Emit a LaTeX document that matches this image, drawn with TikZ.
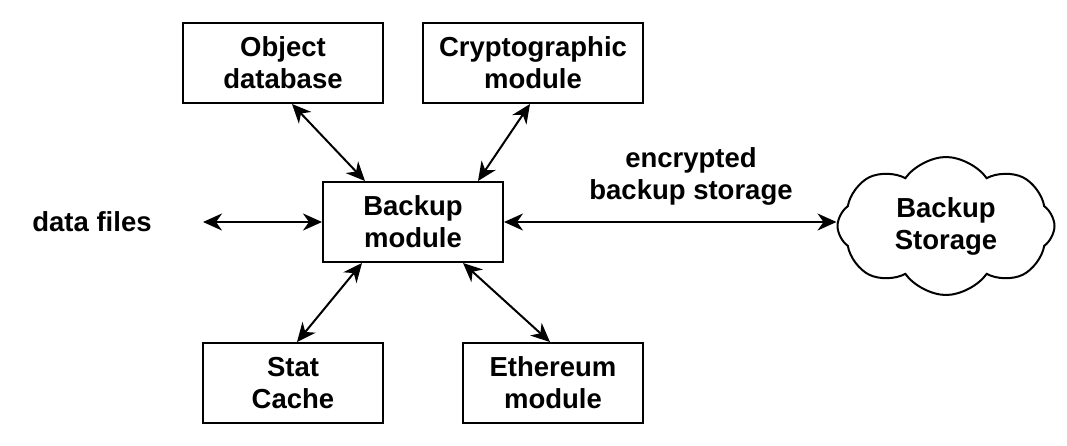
\documentclass[tikz,border=0pt]{standalone}
\usepackage{fontspec}
\setmainfont{Liberation Sans}
\usetikzlibrary{arrows.meta,shapes.symbols,calc}
\begin{document}
\begin{tikzpicture}[x=1pt, y=1pt,
        every node/.style={font=\fontsize{27.5}{32}\selectfont\bfseries, align=center},
        modbox/.style={draw, black, line width=2pt, minimum width=180pt, minimum height=80pt, inner sep=0pt},
        link/.style={line width=2pt, {Stealth[length=19pt,width=17pt,inset=6pt]}-{Stealth[length=19pt,width=17pt,inset=6pt]}}]
    \useasboundingbox (0,0) rectangle (1067,-445);
    \node[modbox, minimum width=200pt] (objdb) at (283,-63) {Object\\database};
    \node[modbox, minimum width=220pt] (crypto) at (533,-63) {Cryptographic\\module};
    \node[modbox] (backup) at (413,-222) {Backup\\module};
    \node[modbox] (stat) at (293,-383) {Stat\\Cache};
    \node[modbox] (eth) at (553,-383) {Ethereum\\module};
    \node[cloud, draw, line width=2pt, cloud puffs=8, cloud puff arc=110, aspect=1.6, minimum width=217pt, minimum height=138pt, inner sep=0pt] (store) at (946,-226) {Backup\\Storage};
    \node (files) at (92,-222) {data files};
    \node (enc) at (691,-176) {encrypted\\backup storage};
    \coordinate (filesend) at (203,-222);
    % connectors
    \draw[link] ($(objdb.south)+(9,0)$) -- ($(backup.north)+(-48,0)$);
    \draw[link] ($(crypto.south)+(-3,0)$) -- ($(backup.north)+(65,0)$);
    \draw[link] ($(backup.south)+(-51,0)$) -- ($(stat.north)+(4,0)$);
    \draw[link] ($(backup.south)+(50,0)$) -- ($(eth.north)+(-3,0)$);
    \draw[link] (filesend) -- (backup.west);
    \draw[link] (backup.east) -- (backup.east -| store.west);
\end{tikzpicture}
\end{document}
